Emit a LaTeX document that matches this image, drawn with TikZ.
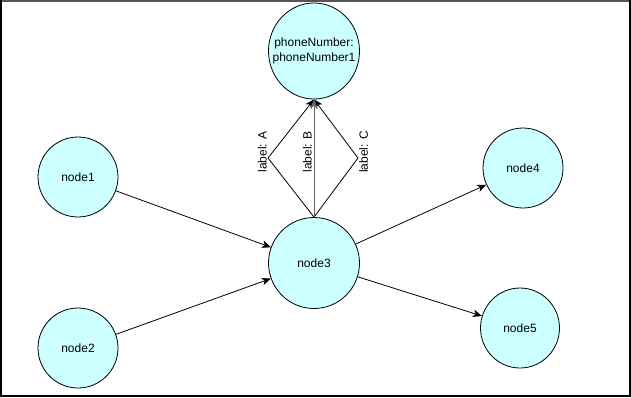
\documentclass[tikz,border=0pt]{standalone}
\usepackage{fontspec}
\setmainfont{Liberation Sans}
\usetikzlibrary{arrows.meta,shapes.geometric,calc}
\definecolor{nodefill}{HTML}{CCFFFF}
\definecolor{topline}{HTML}{555555}
\definecolor{greyline}{HTML}{666666}
\begin{document}
\begin{tikzpicture}[x=1pt,y=-1pt,
  circ/.style={draw=black,fill=nodefill,ellipse,inner sep=0pt,line width=0.8pt,font=\fontsize{12}{15}\selectfont,align=center},
  conn/.style={draw=black,line width=0.8pt,-{Stealth[length=9pt,width=7.5pt,inset=2.5pt]}},
  lbl/.style={font=\fontsize{12}{14}\selectfont,rotate=90,inner sep=1pt}]
\useasboundingbox (0,0) rectangle (631,397);
\fill[white] (0,0) rectangle (631,397);
% frame
\draw[topline,line width=1.6pt] (0,0.8) -- (631,0.8);
\draw[black,line width=1.6pt] (0.8,0) -- (0.8,397);
\draw[black,line width=1.6pt] (630.2,0) -- (630.2,397);
\draw[black,line width=1.6pt] (0,396.2) -- (631,396.2);
% nodes
\node[circ,inner xsep=-14pt,inner ysep=-4pt,minimum width=91pt,minimum height=96pt] (pn) at (314,51) {phoneNumber:\\phoneNumber1};
\node[circ,minimum width=91pt,minimum height=91pt] (n3) at (314,263) {node3};
\node[circ,minimum width=80pt,minimum height=80pt] (n1) at (78,177) {node1};
\node[circ,minimum width=80pt,minimum height=80pt] (n2) at (78,348) {node2};
\node[circ,minimum width=80pt,minimum height=80pt] (n4) at (523,168) {node4};
\node[circ,minimum width=79pt,minimum height=80pt] (n5) at (520,328) {node5};
% diamond vertices
\coordinate (va) at (268,158);
\coordinate (vc) at (358,158);
\coordinate (la0) at (268,152);
\coordinate (lb0) at (313,152);
\coordinate (lc0) at (358,152);
% edges
\draw[conn] (n1) -- (n3);
\draw[conn] (n2) -- (n3);
\draw[conn] (n3) -- (n4);
\draw[conn] (n3) -- (n5);
\draw[conn] (n3.north) -- (va) -- (pn.south);
\draw[conn] (n3.north) -- (vc) -- (pn.south);
\draw[conn,draw=greyline] (n3.north) -- (pn.south);
% labels
\node[lbl,anchor=south] (la) at (la0) {label: A};
\node[lbl,anchor=south] (lb) at (lb0) {label: B};
\node[lbl,anchor=north] (lc) at (lc0) {label: C};
\end{tikzpicture}
\end{document}
